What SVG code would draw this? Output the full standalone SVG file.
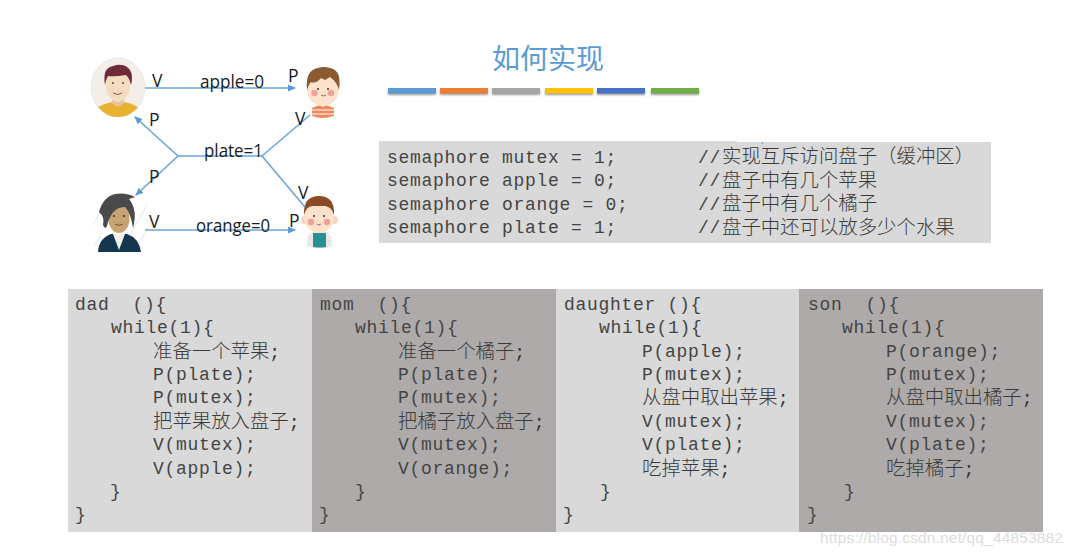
<svg xmlns="http://www.w3.org/2000/svg" width="1072" height="556" viewBox="0 0 1072 556">
<style>
.lbl{font-family:"Open Sans","Liberation Sans",sans-serif;font-size:17.5px;fill:#141c24}
.code{font-family:"Liberation Mono","Noto Sans CJK SC",monospace;font-size:18px;letter-spacing:.7px;fill:#444}
.cjk{font-family:"Noto Sans CJK SC",sans-serif;font-size:19.4px;fill:#3a3a3a;font-weight:300}
.semi{font-family:"Liberation Mono",monospace;font-size:18px;fill:#333}
.conn{fill:none;stroke:#6aa5dc;stroke-width:1.6}
.light{fill:#d9d9d9}.dark{fill:#aeaaaa}
</style>
<defs>
<marker id="arr" markerWidth="8" markerHeight="8" refX="7" refY="4" orient="auto" markerUnits="userSpaceOnUse"><path d="M0 0.5L8 4L0 7.5Z" fill="#5b9bd5"/></marker>
<filter id="sh" x="-10%" y="-100%" width="120%" height="300%"><feGaussianBlur stdDeviation="1"/></filter>
</defs>
<rect width="1072" height="556" fill="#fff"/>

<g id="dad">
<ellipse cx="118" cy="87.5" rx="27" ry="29.5" fill="#f3eee7" stroke="#ddd" stroke-width=".6"/>
<path d="M98 107Q106 103 112 102H124Q131 103 138 107Q130 117 118 117Q106 117 98 107Z" fill="#eab030"/>
<path d="M112 94H124V103Q118 110 112 103Z" fill="#e6c39c"/>
<ellipse cx="118" cy="85" rx="12" ry="17" fill="#f5dcc0"/>
<path d="M105 85Q102 68 113 66Q126 62 131 72Q133 78 131 85Q129 77 126 75Q114 77 108 76Q106 79 105 85Z" fill="#6e2b3a"/>
<path d="M113 93Q118 96 122 93" stroke="#8a5a44" stroke-width="1" fill="none"/>
<circle cx="113" cy="83" r="1" fill="#553"/><circle cx="123" cy="83" r="1" fill="#553"/>
</g>

<g id="daughter">
<path d="M312 108Q322 102 334 108L334 116Q322 120 312 116Z" fill="#f08a5d"/>
<path d="M312 110H334M312 114H334" stroke="#fff" stroke-width="1"/>
<path d="M317 103L323 107L329 103Z" fill="#fff"/>
<circle cx="323" cy="90" r="16" fill="#fde3cc"/>
<path d="M307 90Q305 70 318 68Q323 66 330 68Q342 70 339 90Q337 82 330 77L325 80L321 78Q316 84 311 82Q309 84 307 90Z" fill="#8a5a30"/>
<circle cx="314.500" cy="93" r="3.2" fill="#f3a0a0"/><circle cx="331" cy="93" r="3.2" fill="#f3a0a0"/>
<circle cx="318" cy="89" r="1" fill="#333"/><circle cx="328" cy="89" r="1" fill="#333"/>
<path d="M321 95Q323 97 326 95" stroke="#a33" stroke-width=".8" fill="none"/>
</g>

<g id="mom">
<g stroke="#eeeeee" stroke-width="1.5"><path d="M93 225L110 195M130 235L147 205M95 245L102 233M135 250L148 228"/></g>
<path d="M98 252Q99 238 111 234H127Q139 238 141 252Z" fill="#14374f"/>
<path d="M113 234L119 250L125 234Z" fill="#f3f0ea"/>
<ellipse cx="119" cy="219" rx="10.500" ry="14" fill="#c9a272"/>
<path d="M99 212Q103 197 115 194Q126 192 135 197L129 199Q138 210 133 228Q131 214 125 207Q113 207 108 222Q106 232 103 225Q105 217 99 212Z" fill="#4a4a4a"/>
<circle cx="114" cy="216" r="1" fill="#333"/><circle cx="124" cy="216" r="1" fill="#333"/>
<path d="M115 224Q119 227 123 224" stroke="#7a4a30" stroke-width="1" fill="none"/>
</g>

<g id="son">
<path d="M307 246Q307 233 313 232H326Q332 233 332 246Q320 250 307 246Z" fill="#e8e8e4"/>
<path d="M313 247V233H326V247Q320 248 313 247Z" fill="#2a8f96"/>
<circle cx="305" cy="220" r="4" fill="#f9d4b5"/><circle cx="334" cy="220" r="4" fill="#f9d4b5"/>
<circle cx="319" cy="218" r="15" fill="#fde3cc"/>
<path d="M304 215Q303 196 319 196Q335 196 334 215Q332 207 325 206H312Q306 207 304 215Z" fill="#8a4a22"/>
<circle cx="311" cy="222" r="3.2" fill="#f4a09a"/><circle cx="327" cy="222" r="3.2" fill="#f4a09a"/>
<circle cx="314" cy="216" r="1" fill="#333"/><circle cx="324" cy="216" r="1" fill="#333"/>
<path d="M317 224Q319 226 321 224" stroke="#a33" stroke-width=".8" fill="none"/>
</g>

<g id="connectors">
<path class="conn" marker-end="url(#arr)" d="M145 88H295"/>
<path class="conn" marker-end="url(#arr)" d="M145 230H295"/>
<path class="conn" d="M178 156H262"/>
<path class="conn" marker-end="url(#arr)" d="M178 156L135 117"/>
<path class="conn" marker-end="url(#arr)" d="M178 156L136 195"/>
<path class="conn" d="M262 156L310 115"/>
<path class="conn" d="M262 156L305 207"/>
</g>

<g id="labels">
<text class="lbl" x="152" y="87">V</text>
<text class="lbl" x="200" y="88" textLength="64" lengthAdjust="spacingAndGlyphs">apple=0</text>
<text class="lbl" x="288" y="82">P</text>
<text class="lbl" x="149" y="126">P</text>
<text class="lbl" x="204" y="157" textLength="59" lengthAdjust="spacingAndGlyphs">plate=1</text>
<text class="lbl" x="295" y="125">V</text>
<text class="lbl" x="149" y="183">P</text>
<text class="lbl" x="298" y="199">V</text>
<text class="lbl" x="149" y="228">V</text>
<text class="lbl" x="196" y="232" textLength="74" lengthAdjust="spacingAndGlyphs">orange=0</text>
<text class="lbl" x="289" y="227">P</text>
</g>

<g id="title">
<text x="492" y="69" style="font-family:'Noto Sans CJK SC',sans-serif;font-size:28px;fill:#5b9bd5">如何实现</text>
<g filter="url(#sh)" fill="#999"><rect x="388" y="90" width="48" height="5"/><rect x="440" y="90" width="48" height="5"/><rect x="492" y="90" width="48" height="5"/><rect x="545" y="90" width="48" height="5"/><rect x="597" y="90" width="48" height="5"/><rect x="651" y="90" width="48" height="5"/></g>
<rect x="388" y="88" width="48" height="5.5" fill="#5b9bd5"/>
<rect x="440" y="88" width="48" height="5.5" fill="#ed7d31"/>
<rect x="492" y="88" width="48" height="5.5" fill="#a5a5a5"/>
<rect x="545" y="88" width="48" height="5.5" fill="#ffc000"/>
<rect x="597" y="88" width="48" height="5.5" fill="#4472c4"/>
<rect x="651" y="88" width="48" height="5.5" fill="#70ad47"/>
</g>

<g id="semaphores">
<rect class="light" x="379" y="142" width="612" height="101"/>
<rect class="light" x="379" y="141" width="358" height="1"/>
<path d="M763 142L762 144" stroke="#5b9bd5" stroke-width="1"/>
<text class="code" x="387" y="163">semaphore mutex = 1;</text>
<text class="code" x="387" y="186">semaphore apple = 0;</text>
<text class="code" x="387" y="210">semaphore orange = 0;</text>
<text class="code" x="387" y="233">semaphore plate = 1;</text>
<text class="code" x="698" y="163">//</text><text class="cjk" x="722" y="163">实现互斥访问盘子（缓冲区）</text>
<text class="code" x="698" y="186">//</text><text class="cjk" x="722" y="187">盘子中有几个苹果</text>
<text class="code" x="698" y="210">//</text><text class="cjk" x="722" y="210">盘子中有几个橘子</text>
<text class="code" x="698" y="233">//</text><text class="cjk" x="722" y="234">盘子中还可以放多少个水果</text>
</g>

<g id="dad-code">
<rect class="light" x="68" y="289" width="244" height="243"/>
<text class="code" x="75" y="310" xml:space="preserve">dad  (){</text>
<text class="code" x="111" y="333">while(1){</text>
<text class="cjk" x="153" y="358">准备一个苹果<tspan class="semi">;</tspan></text>
<text class="code" x="153" y="380">P(plate);</text>
<text class="code" x="153" y="403">P(mutex);</text>
<text class="cjk" x="153" y="428">把苹果放入盘子<tspan class="semi">;</tspan></text>
<text class="code" x="153" y="450">V(mutex);</text>
<text class="code" x="153" y="474">V(apple);</text>
<text class="code" x="110" y="497">}</text>
<text class="code" x="75" y="520">}</text>
</g>

<g id="mom-code">
<rect class="dark" x="312" y="289" width="244" height="243"/>
<text class="code" x="320" y="310" xml:space="preserve">mom  (){</text>
<text class="code" x="355" y="333">while(1){</text>
<text class="cjk" x="398" y="358">准备一个橘子<tspan class="semi">;</tspan></text>
<text class="code" x="398" y="380">P(plate);</text>
<text class="code" x="398" y="403">P(mutex);</text>
<text class="cjk" x="398" y="428">把橘子放入盘子<tspan class="semi">;</tspan></text>
<text class="code" x="398" y="450">V(mutex);</text>
<text class="code" x="398" y="474">V(orange);</text>
<text class="code" x="355" y="497">}</text>
<text class="code" x="319" y="520">}</text>
</g>

<g id="daughter-code">
<rect class="light" x="556" y="289" width="243" height="243"/>
<text class="code" x="564" y="310" xml:space="preserve">daughter (){</text>
<text class="code" x="599" y="333">while(1){</text>
<text class="code" x="642" y="357">P(apple);</text>
<text class="code" x="642" y="380">P(mutex);</text>
<text class="cjk" x="642" y="404">从盘中取出苹果<tspan class="semi">;</tspan></text>
<text class="code" x="642" y="427">V(mutex);</text>
<text class="code" x="642" y="450">V(plate);</text>
<text class="cjk" x="642" y="475">吃掉苹果<tspan class="semi">;</tspan></text>
<text class="code" x="600" y="497">}</text>
<text class="code" x="563" y="520">}</text>
</g>

<g id="son-code">
<rect class="dark" x="799" y="289" width="244" height="243"/>
<text class="code" x="808" y="310" xml:space="preserve">son  (){</text>
<text class="code" x="842" y="333">while(1){</text>
<text class="code" x="886" y="357">P(orange);</text>
<text class="code" x="886" y="380">P(mutex);</text>
<text class="cjk" x="886" y="404">从盘中取出橘子<tspan class="semi">;</tspan></text>
<text class="code" x="886" y="427">V(mutex);</text>
<text class="code" x="886" y="450">V(plate);</text>
<text class="cjk" x="886" y="475">吃掉橘子<tspan class="semi">;</tspan></text>
<text class="code" x="844" y="497">}</text>
<text class="code" x="807" y="520">}</text>
</g>

<text id="watermark" x="820" y="543" textLength="243" style="font-family:'Liberation Sans',sans-serif;font-size:15.5px;fill:#dcdcdc">https://blog.csdn.net/qq_44853882</text>
</svg>
